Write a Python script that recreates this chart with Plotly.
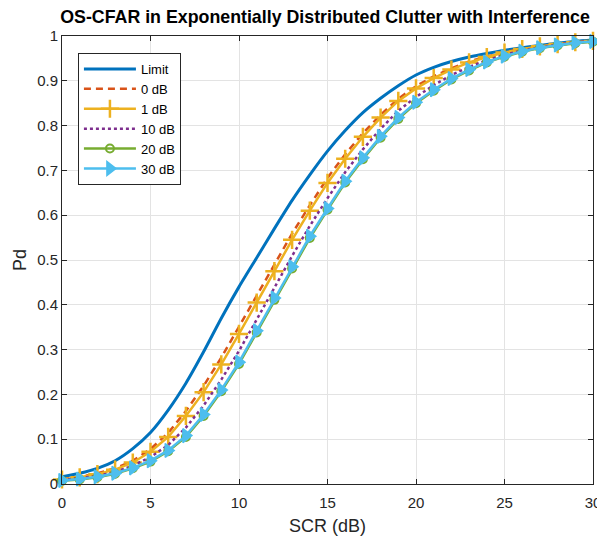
import plotly.graph_objects as go

scr = list(range(0, 31))

pd_limit = [0.016, 0.024, 0.035, 0.052, 0.079, 0.115, 0.165, 0.225, 0.295, 0.370,
            0.440, 0.505, 0.570, 0.633, 0.690, 0.743, 0.789, 0.829, 0.861, 0.889,
            0.913, 0.930, 0.943, 0.953, 0.961, 0.968, 0.974, 0.979, 0.984, 0.988, 0.991]
pd_0db = [0.011, 0.016, 0.024, 0.035, 0.052, 0.078, 0.114, 0.163, 0.219, 0.282,
          0.351, 0.420, 0.489, 0.559, 0.622, 0.683, 0.736, 0.783, 0.824, 0.860,
          0.888, 0.910, 0.928, 0.943, 0.954, 0.964, 0.971, 0.977, 0.982, 0.986, 0.989]
pd_1db = [0.010, 0.015, 0.022, 0.032, 0.048, 0.072, 0.105, 0.152, 0.205, 0.267,
          0.335, 0.405, 0.475, 0.545, 0.610, 0.672, 0.726, 0.775, 0.818, 0.855,
          0.883, 0.906, 0.925, 0.941, 0.953, 0.963, 0.971, 0.977, 0.982, 0.986, 0.989]
pd_10db = [0.009, 0.013, 0.018, 0.027, 0.041, 0.060, 0.087, 0.126, 0.175, 0.233,
           0.297, 0.367, 0.439, 0.509, 0.576, 0.638, 0.696, 0.747, 0.793, 0.833,
           0.864, 0.890, 0.913, 0.931, 0.946, 0.958, 0.968, 0.975, 0.981, 0.986, 0.988]
pd_20db = [0.007, 0.010, 0.015, 0.023, 0.035, 0.050, 0.073, 0.105, 0.152, 0.207,
           0.268, 0.338, 0.411, 0.481, 0.549, 0.612, 0.673, 0.725, 0.773, 0.815,
           0.850, 0.878, 0.903, 0.923, 0.941, 0.954, 0.965, 0.973, 0.979, 0.984, 0.987]
pd_30db = [0.008, 0.011, 0.016, 0.024, 0.036, 0.052, 0.075, 0.108, 0.155, 0.210,
           0.272, 0.342, 0.415, 0.485, 0.553, 0.615, 0.676, 0.728, 0.776, 0.818,
           0.852, 0.880, 0.905, 0.925, 0.942, 0.955, 0.966, 0.974, 0.980, 0.985, 0.988]

x_ticks = [0, 5, 10, 15, 20, 25, 30]
y_ticks = [0, 0.1, 0.2, 0.3, 0.4, 0.5, 0.6, 0.7, 0.8, 0.9, 1]
y_tick_text = ["0", "0.1", "0.2", "0.3", "0.4", "0.5", "0.6", "0.7", "0.8", "0.9", "1"]

FONT = "Liberation Sans, Arial, Helvetica"

fig = go.Figure()
fig.add_trace(go.Scatter(x=scr, y=pd_limit, mode="lines", name="Limit",
                         line=dict(color="#0072BD", width=3, shape="spline", smoothing=0.6),
                         cliponaxis=False))
fig.add_trace(go.Scatter(x=scr, y=pd_0db, mode="lines", name="0 dB",
                         line=dict(color="#D95319", width=2.5, dash="7px,5px"), cliponaxis=False))
fig.add_trace(go.Scatter(x=scr, y=pd_1db, mode="lines+markers", name="1 dB",
                         line=dict(color="#EDB120", width=2.5),
                         marker=dict(symbol="cross-thin", size=13,
                                     line=dict(color="#EDB120", width=2.5)),
                         cliponaxis=False))
fig.add_trace(go.Scatter(x=scr, y=pd_10db, mode="lines", name="10 dB",
                         line=dict(color="#7E2F8E", width=2.5, dash="dot"), cliponaxis=False))
fig.add_trace(go.Scatter(x=scr, y=pd_20db, mode="lines+markers", name="20 dB",
                         line=dict(color="#77AC30", width=2.5),
                         marker=dict(symbol="circle-open", size=8,
                                     line=dict(color="#77AC30", width=2)),
                         cliponaxis=False))
fig.add_trace(go.Scatter(x=scr, y=pd_30db, mode="lines+markers", name="30 dB",
                         line=dict(color="#4DBEEE", width=2.5),
                         marker=dict(symbol="triangle-right", size=12, color="#4DBEEE",
                                     line=dict(color="#4DBEEE", width=1.5)),
                         cliponaxis=False))

axis_common = dict(showline=True, linecolor="#262626", linewidth=1, mirror="ticks",
                   ticks="inside", ticklen=5, tickcolor="#262626",
                   showgrid=True, gridcolor="#e3e3e3", gridwidth=1, zeroline=False,
                   automargin=False,
                   tickfont=dict(family=FONT, size=15, color="#262626"))

fig.update_xaxes(range=[0, 30], tickvals=x_ticks, ticklabelstandoff=5, **axis_common,
                 title=dict(text="SCR (dB)", standoff=9,
                            font=dict(family=FONT, size=18, color="#262626")))
fig.update_yaxes(range=[0, 1], tickvals=y_ticks, ticktext=y_tick_text, **axis_common,
                 title=dict(text="Pd", standoff=5,
                            font=dict(family=FONT, size=18, color="#262626")))

fig.update_layout(
    width=597, height=529,
    margin=dict(l=54, r=11.5, t=28, b=52.5, autoexpand=False),
    paper_bgcolor="white", plot_bgcolor="white",
    title=dict(text="<b>OS-CFAR in Exponentially Distributed Clutter with Interference</b>",
               x=0.531, xanchor="center", xref="container",
               y=0.984, yanchor="middle", yref="container",
               font=dict(family=FONT, size=17.8, color="black")),
    showlegend=True,
    legend=dict(x=0.030, y=0.962, xanchor="left", yanchor="top",
                bgcolor="white", bordercolor="#262626", borderwidth=1,
                font=dict(family=FONT, size=13, color="black"),
                tracegroupgap=0, itemwidth=52),
)

fig.write_html("out.html")
